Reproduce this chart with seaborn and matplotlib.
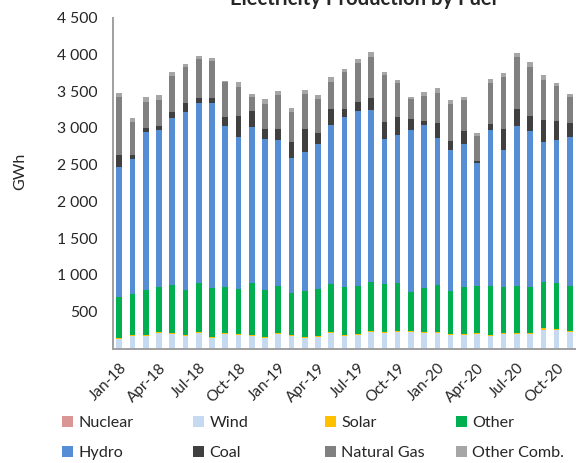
import numpy as np
import pandas as pd
import matplotlib
matplotlib.use("Agg")
import matplotlib.pyplot as plt
import seaborn as sns
from matplotlib.patches import Patch

# Monthly categories, Jan-18 .. Nov-20
months = [f"{m}-{y}" for y in ("18", "19", "20")
          for m in ("Jan", "Feb", "Mar", "Apr", "May", "Jun",
                    "Jul", "Aug", "Sep", "Oct", "Nov", "Dec")][:35]

# Monthly generation by fuel, GWh
nuclear = [0] * 35
wind = [124, 174, 174, 215, 201, 174, 215, 142, 201,
        183, 174, 147, 201, 170, 142, 160, 206, 170,
        188, 228, 215, 228, 219, 206, 210, 179, 179,
        192, 170, 201, 192, 192, 255, 246, 224]
solar = [14, 9, 14, 9, 9, 14, 9, 14, 14,
         14, 14, 14, 14, 14, 14, 14, 14, 14,
         14, 14, 14, 14, 14, 14, 14, 14, 14,
         14, 9, 14, 14, 14, 18, 14, 14]
other = [556, 556, 610, 615, 655, 606, 669, 669, 628,
         606, 705, 633, 637, 565, 628, 642, 664, 651,
         655, 664, 651, 651, 538, 597, 642, 592, 646,
         651, 678, 615, 646, 637, 628, 637, 606]
hydro = [1781, 1835, 2152, 2129, 2269, 2427, 2450, 2518, 2188,
         2079, 2115, 2052, 1989, 1849, 1885, 1971, 2156, 2319,
         2378, 2341, 1975, 2011, 2197, 2228, 2002, 1912, 1939,
         1672, 2120, 1867, 2179, 2120, 1907, 1944, 2039]
coal = [154, 63, 50, 63, 90, 113, 68, 59, 122,
        276, 217, 145, 140, 208, 312, 140, 212, 99,
        118, 167, 231, 240, 158, 54, 194, 122, 185,
        18, 81, 285, 221, 203, 294, 249, 181]
natural_gas = [796, 438, 348, 353, 484, 502, 529, 511, 466,
               393, 199, 330, 461, 407, 475, 461, 380, 511,
               524, 556, 628, 461, 262, 330, 420, 502, 420,
               348, 556, 705, 719, 669, 556, 475, 353]
other_comb = [54, 54, 68, 63, 54, 36, 45, 41, 22,
              72, 36, 68, 59, 59, 59, 59, 59, 36,
              59, 59, 45, 45, 27, 63, 59, 59, 45,
              36, 54, 63, 45, 59, 59, 50, 45]

fuels = ["Nuclear", "Wind", "Solar", "Other", "Hydro",
         "Coal", "Natural Gas", "Other Comb."]
series = [nuclear, wind, solar, other, hydro, coal, natural_gas, other_comb]
colors = ["#DA9694", "#C5D9F1", "#FFC000", "#00B050", "#558ED5",
          "#404040", "#808080", "#A6A6A6"]

sns.set_theme(style="white")
plt.rcParams["font.family"] = ["Lato", "DejaVu Sans"]

W, H = 576, 463
fig = plt.figure(figsize=(W / 100, H / 100), dpi=100)
ax = fig.add_axes([112.7 / W, 1 - 348.5 / H, (576.5 - 112.7) / W, (348.5 - 17.7) / H])

# Stacked bars: draw cumulative totals from the top layer down
cum = np.cumsum(np.array(series, dtype=float), axis=0)
for i in reversed(range(len(series))):
    sns.barplot(x=months, y=cum[i], order=months, color=colors[i],
                saturation=1, width=0.43, errorbar=None, linewidth=0, ax=ax)

ax.set_xlim(-0.5, 34.5)
ax.set_ylim(0, 4500)
yt = list(range(500, 5000, 500))
ax.set_yticks(yt)
ax.set_yticklabels([f"{v:,}".replace(",", " ") for v in yt])

ax.set_xticks(range(0, 35, 3))
ax.set_xticklabels(months[::3], rotation=45, ha="right", rotation_mode="anchor")
ax.set_xticks([i - 0.5 for i in range(0, 35, 3)], minor=True)
ax.tick_params(axis="x", which="major", length=0, pad=9, labelsize=11, colors="#262626")
ax.tick_params(axis="x", which="minor", length=5, width=1.2, color="#A0A0A0", direction="out")
ax.tick_params(axis="y", length=5, width=1.2, color="#A0A0A0", direction="out",
               labelsize=11.3, labelcolor="#262626", pad=6)
ax.set_xlabel("")
ax.set_ylabel("")

for s in ("top", "right"):
    ax.spines[s].set_visible(False)
for s in ("left", "bottom"):
    ax.spines[s].set_color("#A0A0A0")
    ax.spines[s].set_linewidth(1.4)

fig.text(20 / W, 1 - 171 / H, "GWh", rotation=90, ha="center", va="center",
         fontsize=11.5, color="#262626")
fig.text(363 / W, 1 - 5 / H, "Electricity Production by Fuel", ha="center",
         va="baseline", fontsize=14.6, fontweight="bold", color="#262626")

# Legend: two rows of four entries laid out on fixed columns
col_x = [62, 193, 325, 456]
for c, x in enumerate(col_x):
    idx = [c, c + 4]
    handles = [Patch(facecolor=colors[j], edgecolor="none") for j in idx]
    fig.legend(handles, [fuels[j] for j in idx], loc="upper left",
               bbox_to_anchor=(x / W, 1 - 416 / H), frameon=False,
               borderpad=0, borderaxespad=0, handlelength=0.68, handleheight=0.68,
               handletextpad=0.33, labelspacing=0.98, fontsize=11.6,
               labelcolor="#262626")

fig.savefig("out.png", dpi=100)
